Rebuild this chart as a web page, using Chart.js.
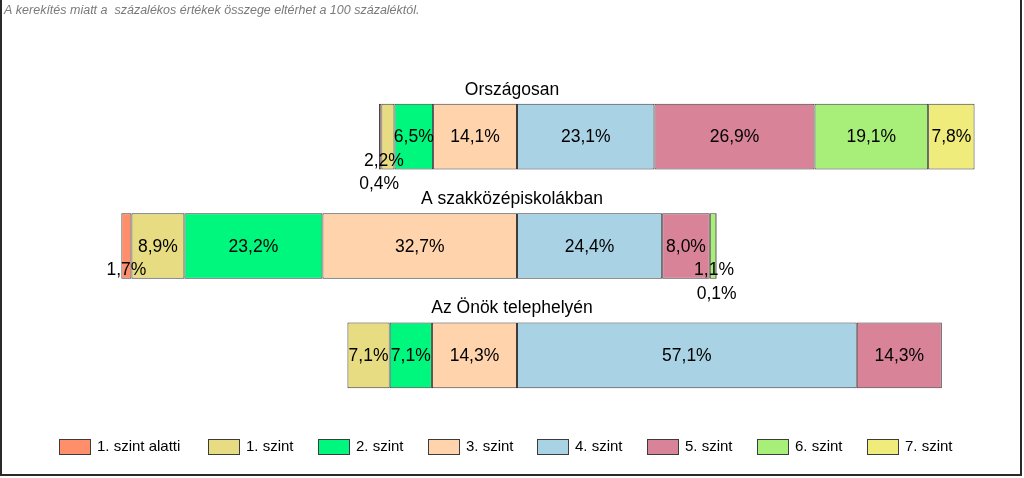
<!DOCTYPE html>
<html>
<head>
<meta charset="utf-8">
<script src="https://cdn.jsdelivr.net/npm/chart.js@4/dist/chart.umd.min.js"></script>
<style>
  html, body { margin: 0; padding: 0; background: #fff; }
  #wrap { position: relative; width: 1024px; height: 478px; }
</style>
</head>
<body>
<div id="wrap"><canvas id="levelChart" width="1024" height="478"></canvas></div>
<script>
const categories = ["Országosan", "A szakközépiskolákban", "Az Önök telephelyén"];
const levels = ["1. szint alatti", "1. szint", "2. szint", "3. szint", "4. szint", "5. szint", "6. szint", "7. szint"];

// percentages per level, one array per level, in category order
const belowLevel1 = [0.4, 1.7, 0];
const level1 = [2.2, 8.9, 7.1];
const level2 = [6.5, 23.2, 7.1];
const level3 = [14.1, 32.7, 14.3];
const level4 = [23.1, 24.4, 57.1];
const level5 = [26.9, 8.0, 14.3];
const level6 = [19.1, 1.1, 0];
const level7 = [7.8, 0.1, 0];

const seriesValues = [belowLevel1, level1, level2, level3, level4, level5, level6, level7];

const colors = ["#FF8F6B", "#E8DC82", "#00F77D", "#FFD3AC", "#A9D3E4", "#D98399", "#A8EF7A", "#F0EC7C"];
// levels below 4 go to the left of the 3/4 boundary
const isLeft = [true, true, true, true, false, false, false, false];
// stacking order: the level nearest the boundary first
const stackOrder = [3, 2, 1, 0, 4, 5, 6, 7];

// label nudges for the narrow segments [dataset][category] -> [dx, dy]
const labelNudge = {
  "0-0": [-1, 47], "1-0": [-4, 24],
  "0-1": [0, 23],
  "6-1": [1, 23], "7-1": [0, 47]
};
// legend item x positions
const legendX = [59, 208, 318, 428, 537, 647, 757, 867];

const fmt = v => v.toFixed(1).replace(".", ",") + "%";

const datasets = seriesValues.map((vals, i) => ({
  label: levels[i],
  data: vals.map(v => isLeft[i] ? -v : v),
  raw: vals,
  backgroundColor: colors[i],
  borderColor: "#3c3c3c",
  borderWidth: 1,
  borderSkipped: false,
  order: stackOrder[i],
  categoryPercentage: 1,
  barPercentage: 0.6
}));

const extras = {
  id: "extras",
  afterDatasetsDraw(chart) {
    const c = chart.ctx;
    c.save();
    // category titles above each bar
    c.fillStyle = "#000";
    c.font = "17.5px 'Liberation Sans', Arial, sans-serif";
    c.textAlign = "center";
    c.textBaseline = "middle";
    const meta0 = chart.getDatasetMeta(3);
    categories.forEach((cat, j) => {
      const el = meta0.data[j];
      c.fillText(cat, 512, el.y - el.height / 2 - 14);
    });
    // value labels
    chart.data.datasets.forEach((ds, i) => {
      const meta = chart.getDatasetMeta(i);
      meta.data.forEach((el, j) => {
        const v = ds.raw[j];
        if (!v) return;
        const nudge = labelNudge[i + "-" + j] || [0, 0];
        const cx = (el.x + el.base) / 2 + nudge[0];
        c.fillText(fmt(v), cx, el.y + 1 + nudge[1]);
      });
    });
    // legend
    c.font = "15px 'Liberation Sans', Arial, sans-serif";
    c.textAlign = "left";
    chart.data.datasets.forEach((ds, i) => {
      const x = legendX[i];
      c.fillStyle = ds.backgroundColor;
      c.fillRect(x, 439, 31, 15);
      c.strokeStyle = "#3c3c3c";
      c.lineWidth = 1;
      c.strokeRect(x + 0.5, 439.5, 31, 15);
      c.fillStyle = "#000";
      c.fillText(ds.label, x + 38, 447);
    });
    // footnote
    c.fillStyle = "#7a7a7a";
    c.font = "italic 12.5px 'Liberation Sans', Arial, sans-serif";
    c.fillText("A kerekítés miatt a  százalékos értékek összege eltérhet a 100 százaléktól.", 4, 11);
    // frame
    c.strokeStyle = "#2a2a2a";
    c.lineWidth = 2;
    c.beginPath();
    c.moveTo(1, 0);
    c.lineTo(1, 475);
    c.lineTo(1021, 475);
    c.lineTo(1021, 0);
    c.stroke();
    c.restore();
  }
};

new Chart(document.getElementById("levelChart"), {
  type: "bar",
  data: { labels: categories, datasets: datasets },
  options: {
    indexAxis: "y",
    responsive: false,
    animation: false,
    layout: { padding: { left: 41, right: 31, top: 82, bottom: 68 } },
    scales: {
      x: { stacked: true, min: -80, max: 80, display: false },
      y: { stacked: true, display: false }
    },
    plugins: {
      legend: { display: false },
      tooltip: { enabled: false }
    }
  },
  plugins: [extras]
});
</script>
</body>
</html>
